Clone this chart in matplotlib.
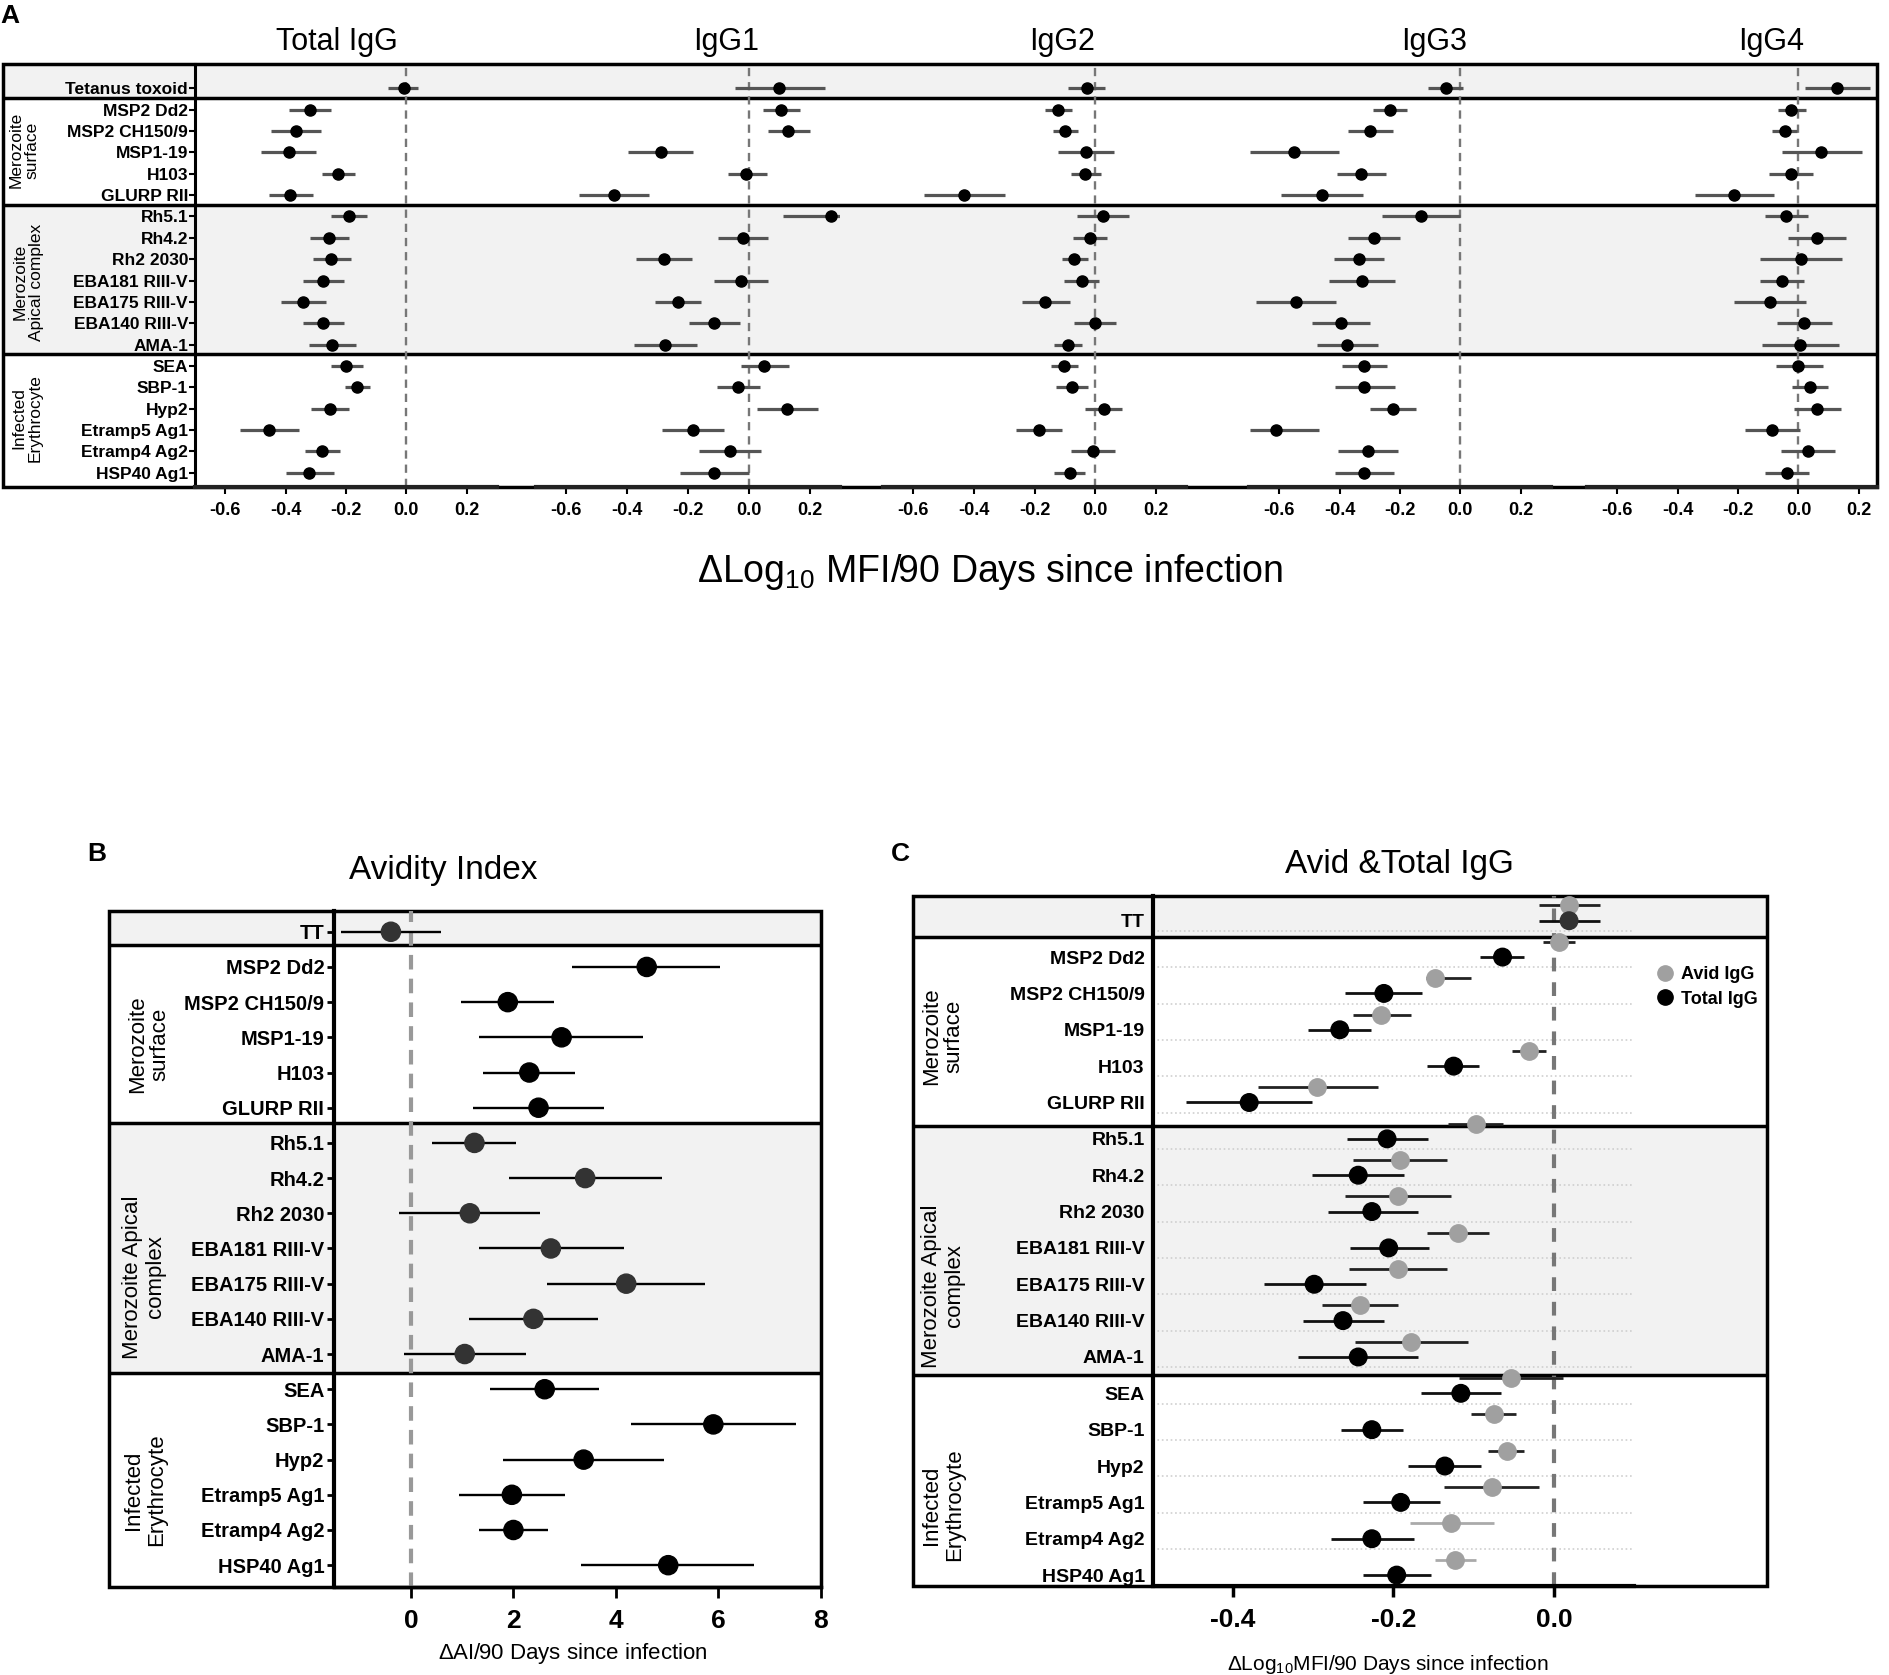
import numpy as np
import matplotlib
matplotlib.use("Agg")
import matplotlib.pyplot as plt
from matplotlib.lines import Line2D

plt.rcParams['font.family'] = ['Liberation Sans', 'DejaVu Sans']
plt.rcParams['axes.unicode_minus'] = False
plt.rcParams['mathtext.fontset'] = 'custom'
plt.rcParams['mathtext.rm'] = 'Liberation Sans'

# ---------------------------------------------------------------- data
ANTIGENS = ['Tetanus toxoid', 'MSP2 Dd2', 'MSP2 CH150/9', 'MSP1-19', 'H103',
            'GLURP RII', 'Rh5.1', 'Rh4.2', 'Rh2 2030', 'EBA181 RIII-V',
            'EBA175 RIII-V', 'EBA140 RIII-V', 'AMA-1', 'SEA', 'SBP-1', 'Hyp2',
            'Etramp5 Ag1', 'Etramp4 Ag2', 'HSP40 Ag1']
ANTIGENS_SHORT = ['TT'] + ANTIGENS[1:]
GROUPS = ['Merozoite\nsurface', 'Merozoite\nApical complex', 'Infected\nErythrocyte']
SUBCLASSES = ['Total IgG', 'IgG1', 'IgG2', 'IgG3', 'IgG4']

# panel A: change in log10 MFI per 90 days (estimate, lower, upper)
total_est = [-0.008, -0.32, -0.367, -0.39, -0.225, -0.384, -0.19, -0.257, -0.25, -0.275,
             -0.341, -0.275, -0.247, -0.20, -0.163, -0.253, -0.456, -0.279, -0.321]
total_lo = [-0.06, -0.39, -0.45, -0.48, -0.28, -0.454, -0.25, -0.32, -0.31, -0.343,
            -0.414, -0.343, -0.323, -0.25, -0.203, -0.315, -0.552, -0.337, -0.40]
total_hi = [0.04, -0.25, -0.283, -0.30, -0.17, -0.31, -0.13, -0.19, -0.185, -0.205,
            -0.265, -0.205, -0.167, -0.145, -0.12, -0.19, -0.357, -0.219, -0.24]

igg1_est = [0.10, 0.105, 0.13, -0.29, -0.008, -0.444, 0.27, -0.018, -0.28, -0.026,
            -0.232, -0.115, -0.275, 0.05, -0.034, 0.127, -0.184, -0.063, -0.113]
igg1_lo = [-0.044, 0.046, 0.063, -0.398, -0.07, -0.557, 0.113, -0.10, -0.37, -0.113,
           -0.31, -0.198, -0.376, -0.026, -0.103, 0.028, -0.285, -0.164, -0.226]
igg1_hi = [0.25, 0.17, 0.20, -0.184, 0.06, -0.327, 0.30, 0.063, -0.188, 0.063,
           -0.156, -0.03, -0.17, 0.133, 0.038, 0.228, -0.08, 0.04, 0.0]

igg2_est = [-0.026, -0.122, -0.098, -0.03, -0.032, -0.432, 0.026, -0.018, -0.068, -0.044,
            -0.164, 0.0, -0.09, -0.102, -0.076, 0.028, -0.184, -0.008, -0.084]
igg2_lo = [-0.088, -0.164, -0.14, -0.122, -0.08, -0.565, -0.06, -0.072, -0.11, -0.102,
           -0.242, -0.068, -0.134, -0.146, -0.128, -0.032, -0.26, -0.078, -0.134]
igg2_hi = [0.034, -0.076, -0.056, 0.062, 0.018, -0.296, 0.112, 0.038, -0.024, 0.012,
           -0.084, 0.068, -0.044, -0.056, -0.024, 0.09, -0.108, 0.066, -0.032]

igg3_est = [-0.048, -0.234, -0.298, -0.55, -0.33, -0.458, -0.132, -0.286, -0.336, -0.326,
            -0.546, -0.396, -0.376, -0.318, -0.318, -0.224, -0.612, -0.306, -0.318]
igg3_lo = [-0.106, -0.29, -0.372, -0.696, -0.41, -0.594, -0.26, -0.372, -0.418, -0.434,
           -0.678, -0.49, -0.476, -0.392, -0.416, -0.30, -0.696, -0.406, -0.414]
igg3_hi = [0.01, -0.176, -0.222, -0.402, -0.248, -0.322, 0.0, -0.20, -0.252, -0.216,
           -0.412, -0.298, -0.274, -0.242, -0.218, -0.148, -0.468, -0.206, -0.22]

igg4_est = [0.126, -0.024, -0.046, 0.076, -0.026, -0.212, -0.042, 0.06, 0.01, -0.054,
            -0.094, 0.02, 0.006, 0.0, 0.038, 0.06, -0.086, 0.032, -0.038]
igg4_lo = [0.022, -0.068, -0.088, -0.056, -0.098, -0.342, -0.112, -0.034, -0.126, -0.126,
           -0.214, -0.07, -0.12, -0.074, -0.02, -0.016, -0.176, -0.058, -0.11]
igg4_hi = [0.236, 0.024, -0.004, 0.212, 0.048, -0.08, 0.03, 0.156, 0.144, 0.02,
           0.026, 0.112, 0.134, 0.08, 0.098, 0.14, 0.006, 0.122, 0.036]

# panel B: change in avidity index per 90 days
ai_est = [-0.39, 4.6, 1.89, 2.94, 2.31, 2.49, 1.24, 3.40, 1.15, 2.73,
          4.20, 2.39, 1.05, 2.61, 5.90, 3.37, 1.97, 2.00, 5.02]
ai_lo = [-1.37, 3.14, 0.97, 1.33, 1.41, 1.21, 0.42, 1.91, -0.23, 1.32,
         2.65, 1.13, -0.13, 1.54, 4.30, 1.80, 0.94, 1.32, 3.32]
ai_hi = [0.59, 6.03, 2.79, 4.53, 3.21, 3.76, 2.05, 4.89, 2.52, 4.16,
         5.73, 3.65, 2.25, 3.67, 7.52, 4.94, 3.00, 2.68, 6.70]

# panel C: avid vs total IgG
tot_est = [0.019, -0.064, -0.212, -0.267, -0.125, -0.380, -0.208, -0.244, -0.227, -0.206,
           -0.299, -0.263, -0.244, -0.116, -0.227, -0.136, -0.191, -0.227, -0.196]
tot_lo = [-0.019, -0.092, -0.260, -0.307, -0.158, -0.459, -0.258, -0.302, -0.282, -0.254,
          -0.362, -0.313, -0.319, -0.166, -0.265, -0.182, -0.238, -0.278, -0.238]
tot_hi = [0.057, -0.037, -0.164, -0.228, -0.093, -0.302, -0.157, -0.187, -0.170, -0.156,
          -0.234, -0.212, -0.170, -0.066, -0.188, -0.091, -0.142, -0.175, -0.153]
avid_est = [0.019, 0.006, -0.148, -0.215, -0.031, -0.295, -0.097, -0.192, -0.195, -0.120,
            -0.195, -0.242, -0.178, -0.053, -0.075, -0.059, -0.077, -0.128, -0.123]
avid_lo = [-0.019, -0.014, -0.160, -0.250, -0.052, -0.369, -0.132, -0.251, -0.260, -0.158,
           -0.256, -0.289, -0.248, -0.118, -0.103, -0.082, -0.137, -0.180, -0.148]
avid_hi = [0.057, 0.026, -0.103, -0.178, -0.010, -0.219, -0.063, -0.133, -0.128, -0.081,
           -0.133, -0.194, -0.107, 0.012, -0.047, -0.037, -0.018, -0.075, -0.097]

# ---------------------------------------------------------------- layout helpers
W, H = 1890, 1675
fig = plt.figure(figsize=(W / 100, H / 100), dpi=100)
BAND = '#f2f2f2'


def rect(x0, y0, x1, y1):
    return [x0 / W, 1 - y1 / H, (x1 - x0) / W, (y1 - y0) / H]


def ftext(x, y, s, **kw):
    fig.text(x / W, 1 - y / H, s, ha=kw.pop('ha', 'center'), va=kw.pop('va', 'center'), **kw)


def background(box, ylim, bounds, lw=2.5):
    ax = fig.add_axes(rect(*box), zorder=0)
    ax.set_xlim(0, 1)
    ax.set_ylim(*ylim)
    ax.axis('off')
    ax.axhspan(ylim[1], bounds[0], color=BAND, lw=0)
    ax.axhspan(bounds[1], bounds[2], color=BAND, lw=0)
    for b in bounds:
        ax.axhline(b, color='k', lw=lw)
    ax.add_patch(plt.Rectangle((0, ylim[1]), 1, ylim[0] - ylim[1], fill=False,
                               ec='k', lw=lw, clip_on=False))
    return ax


def data_axes(box, xlim, ylim):
    ax = fig.add_axes(rect(*box), zorder=2)
    ax.patch.set_alpha(0)
    ax.set_xlim(*xlim)
    ax.set_ylim(*ylim)
    for s in ['top', 'right']:
        ax.spines[s].set_visible(False)
    return ax


rows = np.arange(len(ANTIGENS))

# ---------------------------------------------------------------- panel A
ylimA = (18.67, -1.14)
background((3, 64, 1877, 487), ylimA, (0.45, 5.45, 12.45))
ftext(10, 16, 'A', fontsize=19, fontweight='bold')

seriesA = [(total_est, total_lo, total_hi), (igg1_est, igg1_lo, igg1_hi),
           (igg2_est, igg2_lo, igg2_hi), (igg3_est, igg3_lo, igg3_hi),
           (igg4_est, igg4_lo, igg4_hi)]
boxesA = [(195, 497), (536, 840), (883, 1186), (1249, 1551), (1587, 1877)]
title_x = [337, 726, 1062, 1434, 1771]

for k, (name, (est, lo, hi), (x0, x1)) in enumerate(zip(SUBCLASSES, seriesA, boxesA)):
    right = 0.3 if k < 4 else 0.26
    ax = data_axes((x0, 64, x1, 487), (-0.7, right), ylimA)
    ax.axvline(0, color='#777777', lw=1.7, ls=(0, (3.5, 2.5)), zorder=1)
    ax.hlines(rows, lo, hi, color='#555555', lw=2.3, zorder=2)
    ax.plot(est, rows, 'o', color='k', ms=8, zorder=3)
    ax.set_xticks([-0.6, -0.4, -0.2, 0.0, 0.2])
    ax.set_xticklabels([f'{v:.1f}' for v in [-0.6, -0.4, -0.2, 0.0, 0.2]],
                       fontsize=13, fontweight='bold')
    ax.tick_params(axis='x', length=5, width=1.5, pad=6)
    ax.spines['bottom'].set_linewidth(3)
    ax.spines['bottom'].set_color('#222222')
    if k == 0:
        ax.spines['left'].set_linewidth(2.2)
        ax.set_yticks(rows)
        ax.set_yticklabels(ANTIGENS, fontsize=12.5, fontweight='bold')
        ax.tick_params(axis='y', length=4, width=1.5, pad=1)
    else:
        ax.spines['left'].set_visible(False)
        ax.set_yticks([])
    ftext(title_x[k], 42, name, fontsize=22)

ftext(24, 150, GROUPS[0], fontsize=12.5, rotation=90, linespacing=1.1)
ftext(28, 282, GROUPS[1], fontsize=12.5, rotation=90, linespacing=1.1)
ftext(27, 418, GROUPS[2], fontsize=12.5, rotation=90, linespacing=1.1)
ftext(990, 572, r'$\Delta$Log$_{10}$ MFI/90 Days since infection', fontsize=27)

# ---------------------------------------------------------------- panel B
ylimB = (18.62, -0.59)
background((109, 911, 821, 1587), ylimB, (0.38, 5.43, 12.53))
ftext(97, 854, 'B', fontsize=19, fontweight='bold')
ftext(443, 871, 'Avidity Index', fontsize=24)

axB = data_axes((334, 911, 821, 1587), (-1.5, 8), ylimB)
axB.axvline(0, color='#999999', lw=3, ls=(0, (3.5, 2.2)), zorder=1)
axB.hlines(rows, ai_lo, ai_hi, color='k', lw=1.7, zorder=2)
dark = [0] + list(range(6, 13))
colsB = ['#333333' if i in dark else 'k' for i in rows]
axB.scatter(ai_est, rows, s=190, c=colsB, zorder=3)
axB.set_xticks([0, 2, 4, 6, 8])
axB.set_xticklabels(['0', '2', '4', '6', '8'], fontsize=19, fontweight='bold')
axB.tick_params(axis='x', length=8, width=2, pad=8)
axB.set_yticks(rows)
axB.set_yticklabels(ANTIGENS_SHORT, fontsize=14.5, fontweight='bold')
axB.tick_params(axis='y', length=5, width=2, pad=2)
axB.spines['left'].set_linewidth(3)
axB.spines['bottom'].set_linewidth(2.5)
ftext(149, 1044, GROUPS[0], fontsize=16, rotation=90, linespacing=1.1)
ftext(144, 1277, 'Merozoite Apical\ncomplex', fontsize=16, rotation=90, linespacing=1.1)
ftext(145, 1490, GROUPS[2], fontsize=16, rotation=90, linespacing=1.1)
ftext(573, 1653, r'$\Delta$AI/90 Days since infection', fontsize=16)

# ---------------------------------------------------------------- panel C
ylimC = (18.3, -0.68)
background((913, 896, 1767, 1586), ylimC, (0.44, 5.64, 12.49))
ftext(900, 854, 'C', fontsize=19, fontweight='bold')
ftext(1399, 865, 'Avid &Total IgG', fontsize=24)

axC = data_axes((1153, 896, 1634, 1586), (-0.5, 0.1), ylimC)
for r in rows[:-1]:
    axC.axhline(r + 0.28, color='#cfcfcf', lw=1.2, ls=':', zorder=0.5)
axC.axvline(0, color='#777777', lw=3, ls=(0, (3.3, 2.6)), zorder=1)
avid_y = rows - 0.42
bar_cols = ['#aaaaaa' if i in (17, 18) else '#222222' for i in rows]
axC.hlines(avid_y, avid_lo, avid_hi, colors=bar_cols, lw=2, zorder=2)
axC.hlines(rows, tot_lo, tot_hi, color='#111111', lw=2, zorder=2)
axC.plot(avid_est, avid_y, 'o', color='#a0a0a0', ms=12.5, zorder=3)
colsC = ['#333333' if i == 0 else 'k' for i in rows]
axC.scatter(tot_est, rows, s=160, c=colsC, zorder=4)
axC.set_xticks([-0.4, -0.2, 0.0])
axC.set_xticklabels(['-0.4', '-0.2', '0.0'], fontsize=19, fontweight='bold')
axC.tick_params(axis='x', length=8, width=2.5, pad=8)
axC.set_yticks(rows)
axC.set_yticklabels(ANTIGENS_SHORT, fontsize=14, fontweight='bold')
axC.tick_params(axis='y', length=0, pad=6)
axC.spines['left'].set_linewidth(3)
axC.spines['bottom'].set_linewidth(3)
handles = [Line2D([], [], ls='', marker='o', color='#a0a0a0', ms=11),
           Line2D([], [], ls='', marker='o', color='k', ms=11)]
fig.legend(handles, ['Avid IgG', 'Total IgG'], loc='center left',
           bbox_to_anchor=(1645 / W, 1 - 987 / H), frameon=False,
           prop={'size': 13, 'weight': 'bold'}, handletextpad=0.3,
           labelspacing=0.4, handlelength=1.2, borderpad=0)
ftext(943, 1036, GROUPS[0], fontsize=16, rotation=90, linespacing=1.1)
ftext(943, 1286, 'Merozoite Apical\ncomplex', fontsize=16, rotation=90, linespacing=1.1)
ftext(943, 1505, GROUPS[2], fontsize=16, rotation=90, linespacing=1.1)
ftext(1388, 1664, r'$\Delta$Log$_{10}$MFI/90 Days since infection', fontsize=15)

fig.savefig('out.png', dpi=100)
